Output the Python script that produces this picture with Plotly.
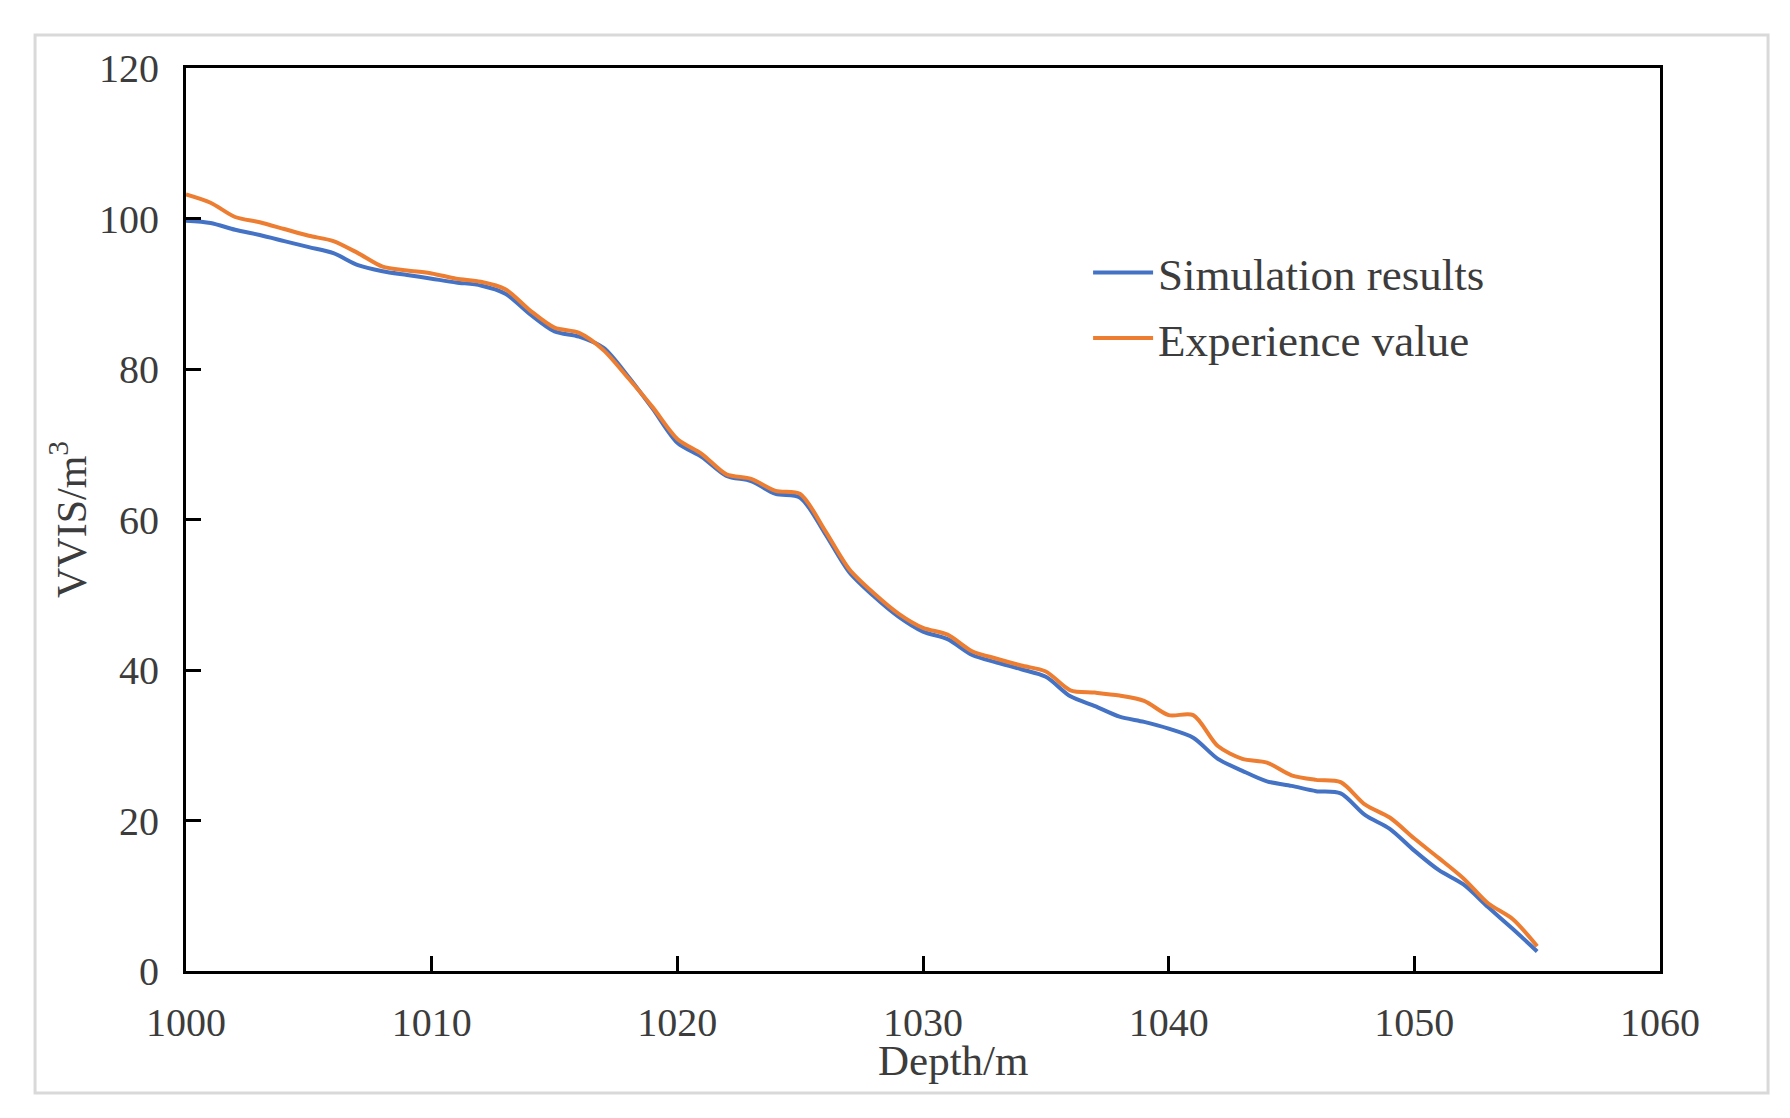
import plotly.graph_objects as go

depth = list(range(1000, 1056))
simulation = [99.7, 99.4, 98.5, 97.8, 97.0, 96.2, 95.4, 93.8, 93.0, 92.5,
              92.0, 91.5, 91.1, 90.0, 87.3, 85.0, 84.3, 82.8, 79.0, 74.7,
              70.2, 68.3, 65.8, 65.1, 63.4, 62.9, 58.2, 53.0, 49.8, 47.1,
              45.1, 44.1, 42.0, 41.0, 40.1, 39.1, 36.5, 35.2, 33.8, 33.1,
              32.2, 31.0, 28.2, 26.6, 25.2, 24.6, 23.9, 23.6, 20.7, 18.9,
              16.0, 13.4, 11.5, 8.5, 5.6, 2.6]
experience = [103.2, 102.1, 100.2, 99.5, 98.6, 97.7, 97.0, 95.4, 93.6, 93.1,
              92.7, 92.0, 91.6, 90.6, 87.8, 85.5, 84.8, 82.5, 78.8, 74.9,
              70.7, 68.7, 66.0, 65.4, 63.8, 63.4, 58.6, 53.4, 50.2, 47.5,
              45.6, 44.7, 42.5, 41.5, 40.6, 39.8, 37.3, 37.0, 36.6, 35.9,
              34.0, 34.0, 29.9, 28.2, 27.7, 26.0, 25.4, 25.1, 22.1, 20.4,
              17.6, 15.0, 12.3, 9.0, 6.9, 3.3]
x_ticks = [1000, 1010, 1020, 1030, 1040, 1050, 1060]
y_ticks = [0, 20, 40, 60, 80, 100, 120]

FONT = "Liberation Serif"
TXT = "#3c3c3c"

fig = go.Figure()
fig.add_trace(go.Scatter(x=depth, y=simulation, mode="lines", name="Simulation results",
                         legendgroup="a",
                         line=dict(color="#4472C4", width=4, shape="spline", smoothing=0.8)))
fig.add_trace(go.Scatter(x=depth, y=experience, mode="lines", name="Experience value",
                         legendgroup="b",
                         line=dict(color="#ED7D31", width=4, shape="spline", smoothing=0.8)))

fig.update_layout(
    width=1790, height=1118,
    margin=dict(l=178, r=138, t=60, b=155),
    paper_bgcolor="white", plot_bgcolor="white",
    font=dict(family=FONT, color=TXT, size=40),
    showlegend=True,
    legend=dict(x=0.612, y=0.813, xanchor="left", yanchor="top",
                font=dict(family=FONT, size=45, color=TXT),
                bgcolor="rgba(0,0,0,0)", tracegroupgap=4, itemwidth=60),
    xaxis=dict(range=[1000, 1060], tickvals=x_ticks, ticks="inside", ticklen=15,
               tickwidth=2.5, tickcolor="black", showline=True, linecolor="black",
               linewidth=3, mirror=True, showgrid=False, zeroline=False,
               tickfont=dict(family=FONT, size=40, color=TXT), ticklabelstandoff=14),
    yaxis=dict(range=[0, 120], tickvals=y_ticks, ticks="inside", ticklen=15,
               tickwidth=2.5, tickcolor="black", showline=True, linecolor="black",
               linewidth=3, mirror=True, showgrid=False, zeroline=False,
               tickfont=dict(family=FONT, size=40, color=TXT), ticklabelstandoff=16,
               title=dict(text="VVIS/m<sup>3</sup>", font=dict(family=FONT, size=42, color=TXT),
                          standoff=0)),
    annotations=[dict(text="Depth/m", xref="paper", yref="paper", x=0.5204, y=-0.099,
                      xanchor="center", yanchor="middle", showarrow=False,
                      font=dict(family=FONT, size=43, color=TXT))],
    shapes=[dict(type="rect", xref="paper", yref="paper", x0=-0.1024, x1=1.0733,
                 y0=-0.1351, y1=1.0365, line=dict(color="#d9d9d9", width=3),
                 fillcolor="rgba(0,0,0,0)", layer="below")],
)

fig.write_html("out.html")
